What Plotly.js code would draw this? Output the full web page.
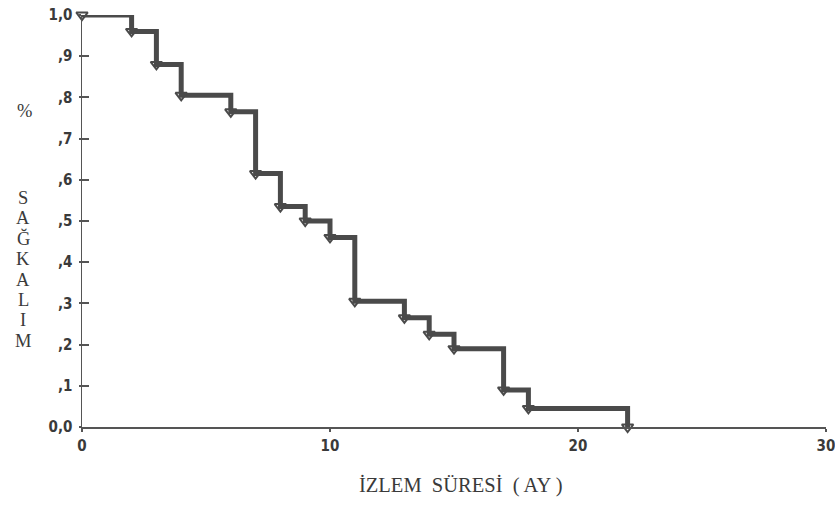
<!DOCTYPE html>
<html>
<head>
<meta charset="utf-8">
<script src="https://cdn.plot.ly/plotly-3.0.1.min.js"></script>
<style>html,body{margin:0;padding:0;background:#fff;}#chart{width:835px;height:509px;}</style>
</head>
<body>
<div id="chart"></div>
<script>
// Kaplan-Meier survival data
var months = [0, 2, 3, 4, 6, 7, 8, 9, 10, 11, 13, 14, 15, 17, 18, 22];
var survival = [1.0, 0.96, 0.88, 0.805, 0.765, 0.615, 0.535, 0.50, 0.46, 0.305, 0.265, 0.225, 0.19, 0.09, 0.045, 0.0];
var yTickVals = [0, 0.1, 0.2, 0.3, 0.4, 0.5, 0.6, 0.7, 0.8, 0.9, 1.0];
var yTickText = ['0,0', ',1', ',2', ',3', ',4', ',5', ',6', ',7', ',8', ',9', '1,0'];
var xTickVals = [0, 10, 20, 30];
var xTickText = ['0', '10', '20', '30'];
var yTitleTop = '%';
var yTitleLetters = ['S', 'A', 'Ğ', 'K', 'A', 'L', 'I', 'M'];
var xTitle = 'İZLEM\u00A0 SÜRESİ\u00A0 ( AY )';

var lineColor = '#4a4a4a';
var tickFont = {family: '"Liberation Sans Narrow", "DejaVu Sans Condensed", "Liberation Sans", sans-serif', size: 15, color: '#3a3a3a', weight: 'bold'};
var serifY = {family: '"Liberation Serif", "DejaVu Serif", serif', size: 18.5, color: '#3a3a3a'};
var serifX = {family: '"Liberation Serif", "DejaVu Serif", serif', size: 20.5, color: '#3a3a3a'};

var trace = {
  x: months, y: survival,
  type: 'scatter', mode: 'lines+markers',
  line: {shape: 'hv', color: lineColor, width: 5},
  marker: {symbol: 'triangle-down-open', size: 10, color: lineColor, line: {width: 2, color: lineColor}},
  cliponaxis: false,
  hoverinfo: 'x+y'
};
var dummy = {x: [0], y: [0], xaxis: 'x', yaxis: 'y2', mode: 'markers', marker: {opacity: 0}, hoverinfo: 'skip', showlegend: false};

// layout geometry (pixels) for the stacked vertical title
var plotLeft = 82, plotBottom = 427, plotW = 744, plotH = 412;
var titleX = (23 - plotLeft) / plotW;
var firstLetterY = 198, letterStep = 20.4;

var annotations = [
  {text: yTitleTop, xref: 'paper', yref: 'paper', x: (24 - plotLeft) / plotW, y: (plotBottom - 111) / plotH, showarrow: false, font: serifY, xanchor: 'center', yanchor: 'middle'},
  {text: xTitle, xref: 'paper', yref: 'paper', x: (461 - plotLeft) / plotW, y: (plotBottom - 485) / plotH, showarrow: false, font: serifX, xanchor: 'center', yanchor: 'middle'}
];
yTitleLetters.forEach(function (ch, i) {
  annotations.push({text: ch, xref: 'paper', yref: 'paper', x: titleX,
    y: (plotBottom - (firstLetterY + i * letterStep)) / plotH,
    showarrow: false, font: serifY, xanchor: 'center', yanchor: 'middle'});
});

var layout = {
  width: 835, height: 509,
  margin: {l: 82, r: 9, t: 15, b: 82},
  paper_bgcolor: '#fff', plot_bgcolor: '#fff',
  showlegend: false,
  xaxis: {
    range: [0, 30], tickvals: xTickVals, ticktext: xTickText,
    ticks: 'outside', ticklen: 3, tickwidth: 2, tickcolor: '#555',
    showline: true, linecolor: '#555', linewidth: 1.5,
    showgrid: false, zeroline: false, tickfont: tickFont, ticklabelstandoff: 1,
    ticklabeloverflow: 'allow'
  },
  yaxis: {
    range: [0, 1.0], tickvals: yTickVals, ticktext: yTickText,
    ticks: 'outside', ticklen: 2, tickwidth: 2, tickcolor: '#555',
    showline: true, linecolor: '#555', linewidth: 1.5,
    showgrid: false, zeroline: false, tickfont: tickFont, ticklabelstandoff: 3,
    ticklabeloverflow: 'allow'
  },
  yaxis2: {
    overlaying: 'y', side: 'left', range: [0, 1.0], tickvals: yTickVals,
    ticks: 'inside', ticklen: 7, tickwidth: 2, tickcolor: '#555',
    showticklabels: false, showline: false, showgrid: false, zeroline: false
  },
  annotations: annotations
};

Plotly.newPlot('chart', [trace, dummy], layout, {displayModeBar: false, staticPlot: true});
</script>
</body>
</html>
